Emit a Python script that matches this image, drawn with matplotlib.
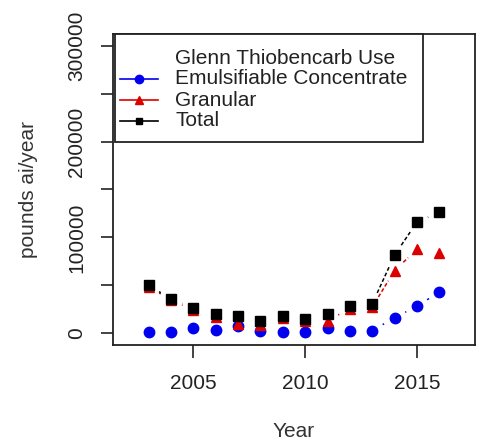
import matplotlib
matplotlib.use("Agg")
import matplotlib.pyplot as plt
from matplotlib.patches import Rectangle
from matplotlib.lines import Line2D
import numpy as np

plt.rcParams['font.family'] = ['Liberation Sans', 'DejaVu Sans']

# Glenn county thiobencarb use, pounds ai / year
years = [2003, 2004, 2005, 2006, 2007, 2008, 2009, 2010, 2011, 2012, 2013, 2014, 2015, 2016]
emulsifiable = [1400, 1400, 5900, 3800, 7300, 2400, 1400, 1400, 5600, 3100, 3100, 16300, 28500, 43000]
granular = [48300, 35000, 24000, 17000, 10000, 9000, 16000, 12800, 13500, 25700, 27400, 65600, 87500, 83600]
total = [50000, 36100, 26400, 20500, 18100, 12500, 18100, 14600, 20500, 28500, 30900, 81600, 116000, 126400]

legend_title = "Glenn Thiobencarb Use"
labels = ["Emulsifiable Concentrate", "Granular", "Total"]
colors = ["#0000ee", "#dd0000", "black"]
markers = ["o", "^", "s"]
msizes = [7.5, 7.5, 6.5]

W, H = 481, 444
fig = plt.figure(figsize=(W / 100, H / 100), dpi=100)
ax = fig.add_axes([113 / W, 1 - 345 / H, 362 / W, 311 / H])
ax.set_xlim(2001.4, 2017.6)
ax.set_ylim(-12000, 312000)


def gapped(ax, x, y, color, gap=12):
    # R type="b": segments stop short of the points
    pts = ax.transData.transform(np.column_stack([x, y]))
    inv = ax.transData.inverted()
    for p0, p1 in zip(pts[:-1], pts[1:]):
        d = p1 - p0
        L = np.hypot(d[0], d[1])
        if L <= 2 * gap:
            continue
        u = d / L
        a = inv.transform(p0 + u * gap)
        b = inv.transform(p1 - u * gap)
        ax.plot([a[0], b[0]], [a[1], b[1]], color=color, lw=1.1, ls=(0, (2.5, 1.5)))


series = [emulsifiable, granular, total]
for s, c, m, ms in zip(series, colors, markers, msizes):
    gapped(ax, years, s, c)
for s, c, m, ms in zip(series, colors, markers, msizes):
    ax.plot(years, s, ls="none", marker=m, color=c, ms=ms, zorder=3)

ax.set_xticks([2005, 2010, 2015])
ax.set_yticks(np.arange(0, 300001, 50000))
ax.set_yticklabels(["0", "", "100000", "", "200000", "", "300000"],
                   rotation=90, va="center")
ax.tick_params(axis="both", direction="out", length=9, width=1.2,
               labelsize=15, colors="#222222")
ax.tick_params(axis="x", pad=12)
ax.tick_params(axis="y", pad=10.5)
for sp in ax.spines.values():
    sp.set_linewidth(1.3)
    sp.set_color("#222222")

ax.set_xlabel("Year", fontsize=15, color="#333333")
ax.set_ylabel("pounds ai/year", fontsize=15, color="#333333")
ax.xaxis.set_label_coords(0.5, (345 - 422) / 311)
ax.yaxis.set_label_coords((38 - 113) / 362, 0.5)

# legend box drawn by hand, R style
def fx(x):
    return x / W


def fy(y):
    return 1 - y / H


fig.patches.append(Rectangle((fx(115), fy(142)), fx(423) - fx(115), fy(34) - fy(142),
                             transform=fig.transFigure, fill=True, facecolor="white",
                             edgecolor="#222222", lw=1.3, zorder=5))
fig.text(fx(175), fy(58), legend_title, fontsize=15, va="center", ha="left",
         color="#222222", zorder=6)
rows = [79, 100, 121]
for lab, c, m, ms, yy in zip(labels, colors, markers, msizes, rows):
    fig.lines.append(Line2D([fx(120), fx(158)], [fy(yy), fy(yy)], color=c, lw=1.2,
                            transform=fig.transFigure, zorder=6))
    fig.lines.append(Line2D([fx(139)], [fy(yy)], color=c, marker=m, ms=ms - 1.5,
                            transform=fig.transFigure, zorder=7))
    fig.text(fx(175), fy(yy), lab, fontsize=15, va="center", ha="left",
             color="#222222", zorder=6)

fig.savefig("out.png", dpi=100)
